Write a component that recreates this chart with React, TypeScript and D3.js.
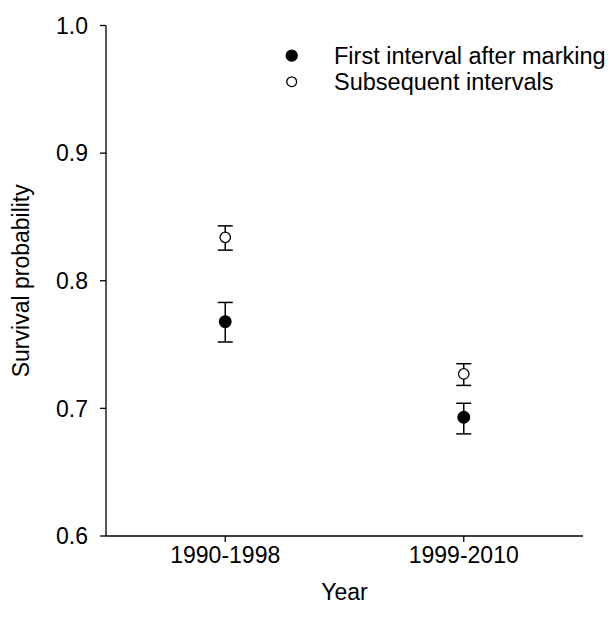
import React from "react";
import * as d3 from "d3";

const periods = ["1990-1998", "1999-2010"];
const firstMean = [0.768, 0.693];
const firstLow = [0.752, 0.680];
const firstHigh = [0.783, 0.704];
const subsMean = [0.834, 0.727];
const subsLow = [0.824, 0.718];
const subsHigh = [0.843, 0.735];
const yTicks = [0.6, 0.7, 0.8, 0.9, 1.0];
const legendLabels = ["First interval after marking", "Subsequent intervals"];

const W = 610;
const H = 624;
const left = 106;
const right = 583;
const top = 25.5;
const bottom = 536;
const FONT = "Liberation Sans, Arial, sans-serif";
const FS = 23;

export default function App() {
  const x = d3.scalePoint<string>().domain(periods).range([left, right]).padding(0.5);
  const y = d3.scaleLinear().domain([0.6, 1.0]).range([bottom, top]);
  const fmt = d3.format(".1f");
  const cap = 7.5;

  const series = [
    { mean: firstMean, low: firstLow, high: firstHigh, fill: "#000", r: 5.8 },
    { mean: subsMean, low: subsLow, high: subsHigh, fill: "#fff", r: 5.2 },
  ];

  return (
    <svg width={W} height={H} style={{ position: "absolute", left: 0, top: 0, background: "#fff" }}>
      <rect x={0} y={0} width={W} height={H} fill="#fff" />
      {/* axes */}
      <line x1={left} x2={left} y1={top} y2={bottom} stroke="#000" strokeWidth={1.3} />
      <line x1={left} x2={right} y1={bottom} y2={bottom} stroke="#000" strokeWidth={1.3} />
      {yTicks.map((t) => (
        <g key={t}>
          <line x1={left - 6} x2={left} y1={y(t)} y2={y(t)} stroke="#000" strokeWidth={1.3} />
          <text x={left - 18} y={y(t)} dy="0.36em" textAnchor="end" fontFamily={FONT} fontSize={FS} fill="#000">
            {fmt(t)}
          </text>
        </g>
      ))}
      {periods.map((p) => (
        <g key={p}>
          <line x1={x(p)!} x2={x(p)!} y1={bottom} y2={bottom + 6} stroke="#000" strokeWidth={1.3} />
          <text x={x(p)!} y={563} textAnchor="middle" fontFamily={FONT} fontSize={FS} fill="#000">
            {p}
          </text>
        </g>
      ))}
      <text x={(left + right) / 2} y={600} textAnchor="middle" fontFamily={FONT} fontSize={FS} fill="#000">
        Year
      </text>
      <text
        transform={`translate(29, ${(top + bottom) / 2}) rotate(-90)`}
        textAnchor="middle"
        fontFamily={FONT}
        fontSize={FS}
        fill="#000"
      >
        Survival probability
      </text>
      {/* data */}
      {series.map((s, si) =>
        periods.map((p, i) => {
          const cx = x(p)!;
          return (
            <g key={`${si}-${i}`}>
              <line x1={cx} x2={cx} y1={y(s.low[i])} y2={y(s.high[i])} stroke="#000" strokeWidth={1.5} />
              <line x1={cx - cap} x2={cx + cap} y1={y(s.low[i])} y2={y(s.low[i])} stroke="#000" strokeWidth={1.5} />
              <line x1={cx - cap} x2={cx + cap} y1={y(s.high[i])} y2={y(s.high[i])} stroke="#000" strokeWidth={1.5} />
              <circle cx={cx} cy={y(s.mean[i])} r={s.r} fill={s.fill} stroke="#000" strokeWidth={1.3} />
            </g>
          );
        })
      )}
      {/* legend */}
      {legendLabels.map((l, i) => (
        <g key={l}>
          <circle cx={291.7} cy={55.7 + i * 26} r={series[i].r - 0.3} fill={series[i].fill} stroke="#000" strokeWidth={1.3} />
          <text x={334} y={55.7 + i * 26} dy="0.36em" fontFamily={FONT} fontSize={23.5} fill="#000">
            {l}
          </text>
        </g>
      ))}
    </svg>
  );
}
